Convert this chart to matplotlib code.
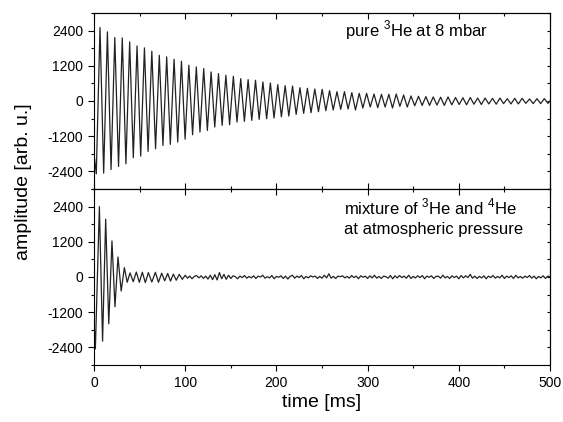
import numpy as np
import matplotlib
matplotlib.use("Agg")
import matplotlib.pyplot as plt
from matplotlib.ticker import MultipleLocator

plt.rcParams['font.family'] = ['Liberation Sans', 'DejaVu Sans']
plt.rcParams['mathtext.fontset'] = 'custom'
plt.rcParams['mathtext.rm'] = 'Liberation Sans'
plt.rcParams['axes.unicode_minus'] = False

# --- top panel: pure 3He at 8 mbar (extrema) ---
top_peak_t = [6.6, 14.7, 22.8, 31.0, 39.1, 47.2, 55.3, 63.4, 71.6, 79.7,
              87.8, 95.9, 104.0, 112.2, 120.3, 128.4, 136.5, 144.6, 152.8, 160.9,
              169.0, 177.1, 185.2, 193.4, 201.5, 209.6, 217.7, 225.8, 234.0, 242.1,
              250.2, 258.3, 266.4, 274.6, 282.7, 290.8, 298.9, 307.0, 315.2, 323.3,
              331.4, 339.5, 347.6, 355.8, 363.9, 372.0, 380.1, 388.2, 396.4, 404.5,
              412.6, 420.7, 428.8, 437.0, 445.1, 453.2, 461.3, 469.4, 477.6, 485.7,
              493.8]
top_peak_v = [2505, 2358, 2164, 2150, 2016, 1879, 1811, 1697, 1560, 1503,
              1424, 1355, 1219, 1162, 1105, 991, 934, 877, 843, 763,
              729, 706, 649, 615, 558, 522, 510, 454, 432, 410,
              398, 352, 318, 318, 284, 262, 262, 239, 228, 228,
              239, 205, 171, 160, 150, 140, 130, 140, 120, 110,
              120, 100, 100, 90, 100, 80, 90, 90, 70, 80,
              80]
top_trough_t = [2.5, 10.6, 18.7, 26.9, 35.0, 43.1, 51.2, 59.3, 67.5, 75.6,
                83.7, 91.8, 99.9, 108.1, 116.2, 124.3, 132.4, 140.5, 148.7, 156.8,
                164.9, 173.0, 181.1, 189.3, 197.4, 205.5, 213.6, 221.7, 229.9, 238.0,
                246.1, 254.2, 262.3, 270.5, 278.6, 286.7, 294.8, 302.9, 311.1, 319.2,
                327.3, 335.4, 343.5, 351.7, 359.8, 367.9, 376.0, 384.1, 392.3, 400.4,
                408.5, 416.6, 424.7, 432.9, 441.0, 449.1, 457.2, 465.3, 473.5, 481.6,
                489.7, 497.8]
top_trough_v = [-2483, -2460, -2335, -2232, -2141, -1936, -1879, -1720, -1629, -1515,
                -1480, -1401, -1300, -1150, -1059, -1002, -888, -831, -809, -718,
                -695, -661, -626, -604, -581, -540, -512, -455, -421, -398,
                -364, -330, -307, -284, -273, -307, -239, -205, -228, -205,
                -239, -182, -205, -160, -150, -150, -140, -150, -130, -120,
                -130, -110, -120, -100, -110, -90, -100, -100, -80, -90,
                -90, -80]

# --- bottom panel: mixture of 3He and 4He at atmospheric pressure ---
bot_peak_t = [5.9, 12.8, 19.7, 26.3, 33.3, 39.5, 46.4, 53.0, 59.6, 67.3,
              74.2, 80.8, 87.0, 93.5]
bot_peak_v = [2400, 1970, 1230, 683, 319, 140, 170, 160, 150, 160,
              130, 120, 100, 90]
bot_trough_t = [1.5, 9.4, 16.2, 23.0, 29.8, 36.4, 43.0, 49.7, 56.3, 63.4,
                70.7, 77.5, 83.9, 90.2, 96.8]
bot_trough_v = [-2450, -2187, -1595, -1014, -478, -180, -160, -180, -190, -170,
                -180, -130, -140, -110, -80]
# noise after the decay, sampled every 2.5 ms from 100 ms to 500 ms
noise_start, noise_step = 100.0, 2.5
bot_noise_v = [60, -40, 30, -60, 20, 50, -30, 40, -50, 30,
               -70, 60, -90, 80, -100, 150, -60, 90, -80, 60,
               -50, 40, 10, -60, 30, -20, 50, -40, 20, -30,
               40, -50, 30, 0, 60, -40, 10, -30, 50, -60,
               20, -10, 40, -50, 30, -70, 20, 60, -40, 30,
               -20, 50, -60, 20, -30, 40, 0, 30, -50, 20,
               -40, 60, -30, 110, -40, 20, -50, 30, 10, 40,
               -30, 20, -40, 50, -20, 30, -60, 40, -10, 30,
               -50, 40, -30, 60, -40, 20, -50, 30, 10, -40,
               50, -60, 40, -30, 50, -20, 30, -40, 60, -50,
               20, -30, 40, -20, 50, -60, 30, -10, 40, -50,
               20, 30, -40, 60, -30, 20, -50, 40, -20, 30,
               -60, 50, -30, 40, -20, 90, -40, 30, -50, 20,
               -30, 40, -60, 30, -20, 50, -40, 20, -30, 60,
               -50, 30, -20, 40, -50, 60, -30, 20, -40, 30,
               -20, 50, -40, 30, -60, 20, -30, 40, -50, 30,
               10]

t_top = np.concatenate([[0.0], top_peak_t, top_trough_t, [500.0]])
v_top = np.concatenate([[-1800.0], top_peak_v, top_trough_v, [0.0]])
o = np.argsort(t_top)
t_top, v_top = t_top[o], v_top[o]

t_noise = noise_start + noise_step * np.arange(len(bot_noise_v))
t_bot = np.concatenate([[0.0], bot_peak_t, bot_trough_t, t_noise])
v_bot = np.concatenate([[-1500.0], bot_peak_v, bot_trough_v, bot_noise_v])
o = np.argsort(t_bot)
t_bot, v_bot = t_bot[o], v_bot[o]

fig = plt.figure(figsize=(5.63, 4.22), dpi=100)
W, H = 563.0, 422.0
ax1 = fig.add_axes([94 / W, 1 - 189 / H, 456 / W, 176 / H])
ax2 = fig.add_axes([94 / W, 1 - 365 / H, 456 / W, 176 / H])

for ax, t, v in [(ax1, t_top, v_top), (ax2, t_bot, v_bot)]:
    ax.plot(t, v, color='#222222', lw=0.9)
    ax.set_xlim(0, 500)
    ax.set_ylim(-3000, 3000)
    ax.xaxis.set_major_locator(MultipleLocator(100))
    ax.xaxis.set_minor_locator(MultipleLocator(50))
    ax.set_yticks([-2400, -1200, 0, 1200, 2400])
    ax.yaxis.set_minor_locator(MultipleLocator(600))
    ax.tick_params(axis='y', which='both', direction='out', right=False,
                   labelsize=10, width=0.8)
    ax.tick_params(axis='y', which='major', length=4.5)
    ax.tick_params(axis='y', which='minor', length=2.5)
    for s in ax.spines.values():
        s.set_linewidth(0.8)
    # inward ticks on the right and top spines
    sy = ax.secondary_yaxis('right')
    sy.set_yticks(np.arange(-3000, 3001, 600))
    sy.tick_params(direction='in', length=2.5, width=0.8, labelright=False)
    sx = ax.secondary_xaxis('top')
    sx.xaxis.set_major_locator(MultipleLocator(100))
    sx.xaxis.set_minor_locator(MultipleLocator(50))
    sx.tick_params(which='both', direction='in', width=0.8, labeltop=False)
    sx.tick_params(which='major', length=4.5)
    sx.tick_params(which='minor', length=2.5)
    for s in list(sy.spines.values()) + list(sx.spines.values()):
        s.set_linewidth(0.8)

ax1.tick_params(axis='x', which='both', direction='in', labelbottom=False, width=0.8)
ax1.tick_params(axis='x', which='major', length=4.5)
ax1.tick_params(axis='x', which='minor', length=2.5)
ax2.tick_params(axis='x', which='both', direction='out', labelsize=10, width=0.8)
ax2.tick_params(axis='x', which='major', length=4.5)
ax2.tick_params(axis='x', which='minor', length=2.5)

ax1.text(275, 2420, r'pure $^{3}$He at 8 mbar', fontsize=12, va='center')
ax2.text(274, 2380, r'mixture of $^{3}$He and $^{4}$He', fontsize=12, va='center')
ax2.text(274, 1630, 'at atmospheric pressure', fontsize=12, va='center')

ax2.set_xlabel('time [ms]', fontsize=14, labelpad=3)
fig.text(24 / W, 1 - 182 / H, 'amplitude [arb. u.]', rotation=90,
         fontsize=14, ha='center', va='center')

fig.savefig('out.png', dpi=100)
